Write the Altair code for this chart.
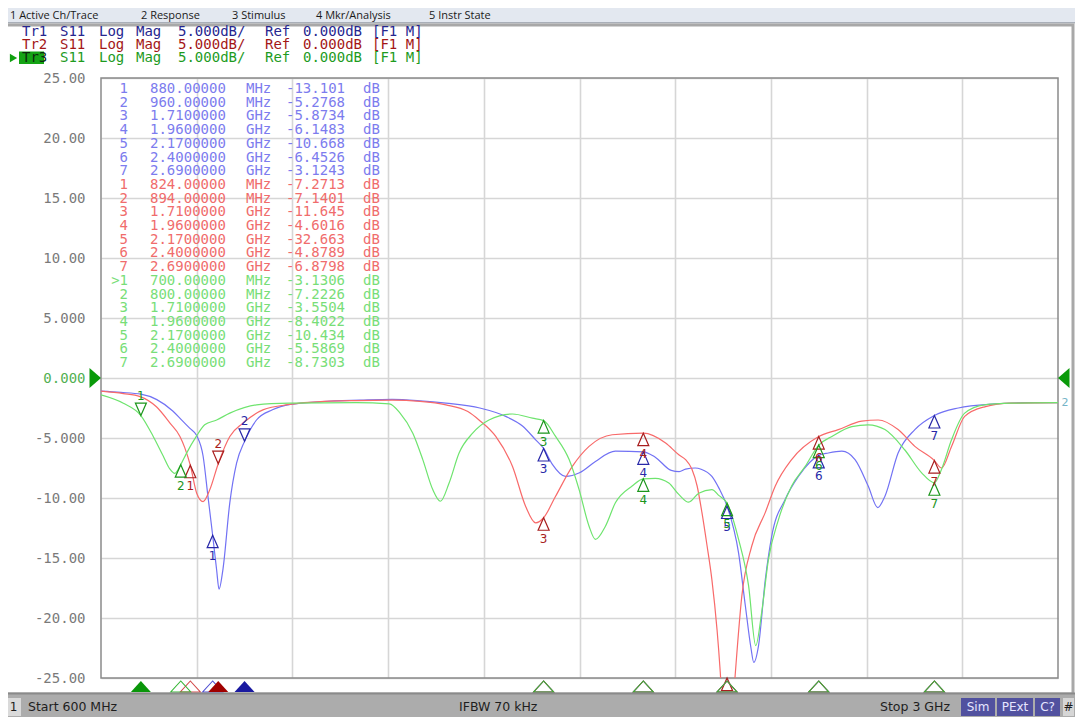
import altair as alt
import pandas as pd

# ---------------- data ----------------
tr1_freq = [600, 650, 700, 740, 780, 805, 823, 840, 856, 868,
            880, 890, 896, 906, 923, 940, 960, 990, 1030, 1075,
            1155, 1250, 1330, 1400, 1465, 1550, 1615, 1657, 1690, 1710,
            1732, 1765, 1800, 1840, 1890, 1960, 1990, 2030, 2050, 2066,
            2090, 2105, 2132, 2150, 2170, 2199, 2216, 2230, 2237, 2249,
            2266, 2282, 2316, 2349, 2400, 2424, 2458, 2491, 2524, 2548,
            2566, 2599, 2641, 2690, 2750, 2841, 2925, 3000]
tr1_db = [-1.1, -1.2, -1.35, -1.8, -2.75, -3.6, -4.2, -4.8, -6.5, -9.8,
          -13.1, -16.0, -17.6, -15.9, -10.4, -7.1, -5.28, -3.5, -2.65, -2.2,
          -1.97, -1.85, -1.78, -1.9, -2.1, -2.5, -3.2, -4.0, -5.15, -5.87,
          -7.2, -8.2, -7.9, -6.95, -6.1, -6.15, -6.6, -7.7, -7.8, -7.6,
          -7.5, -7.6, -8.2, -9.2, -10.67, -14.6, -19.0, -22.5, -23.7, -22.3,
          -16.8, -13.2, -10.1, -8.2, -6.45, -6.25, -6.1, -6.8, -9.0, -10.8,
          -9.85, -6.25, -4.3, -3.12, -2.5, -2.16, -2.05, -2.05]

tr2_freq = [600, 656, 698, 739, 773, 798, 810, 824, 840, 856,
            873, 894, 923, 956, 1006, 1073, 1160, 1240, 1330, 1400,
            1465, 1520, 1548, 1590, 1632, 1665, 1690, 1710, 1740, 1782,
            1824, 1882, 1960, 2016, 2049, 2066, 2082, 2095, 2107, 2120,
            2132, 2145, 2153, 2162, 2170, 2180, 2191, 2207, 2232, 2266,
            2291, 2332, 2400, 2449, 2508, 2549, 2599, 2641, 2690, 2708,
            2733, 2766, 2816, 2883, 3000]
tr2_db = [-1.1, -1.3, -1.55, -2.4, -3.76, -4.87, -5.8, -7.27, -9.6, -10.3,
          -9.3, -7.14, -4.87, -3.76, -2.66, -2.2, -1.95, -1.88, -1.85, -1.95,
          -2.24, -2.8, -3.5, -4.87, -7.37, -10.7, -12.07, -11.645, -9.86, -7.37,
          -5.7, -4.73, -4.60, -5.42, -6.4, -6.8, -7.6, -9.0, -11.2, -14.0,
          -16.8, -21.0, -24.5, -29.5, -32.663, -29.5, -24.5, -18.2, -14.0, -11.2,
          -9.0, -6.8, -4.88, -4.3, -3.6, -3.5, -4.3, -5.7, -6.88, -7.5,
          -5.7, -3.2, -2.4, -2.1, -2.05]

tr3_freq = [600, 656, 700, 731, 756, 773, 785, 800, 814, 839,
            860, 890, 923, 990, 1073, 1240, 1323, 1350, 1382, 1407,
            1432, 1451, 1473, 1498, 1532, 1573, 1632, 1682, 1710, 1740,
            1774, 1799, 1824, 1840, 1865, 1890, 1932, 1960, 1990, 2024,
            2049, 2074, 2099, 2132, 2150, 2170, 2199, 2224, 2242, 2257,
            2274, 2299, 2332, 2366, 2400, 2433, 2483, 2524, 2566, 2616,
            2658, 2690, 2708, 2733, 2766, 2816, 2883, 3000]
tr3_db = [-1.4, -2.1, -3.13, -4.87, -6.5, -7.6, -7.95, -7.22, -6.3, -4.87,
          -3.9, -3.5, -2.93, -2.24, -2.1, -2.05, -2.16, -2.93, -4.6, -6.8,
          -9.3, -10.27, -8.75, -6.25, -4.6, -3.5, -3.0, -3.35, -3.55, -4.87,
          -6.8, -9.3, -12.35, -13.45, -12.35, -10.4, -9.0, -8.40, -8.36, -8.75,
          -9.7, -10.35, -9.6, -9.3, -9.8, -10.43, -13.45, -17.3, -22.3, -19.5,
          -15.1, -11.8, -9.0, -7.37, -5.59, -4.87, -4.05, -3.9, -4.3, -6.0,
          -7.9, -8.73, -7.6, -5.15, -2.93, -2.24, -2.1, -2.05]

mk1_freq = [880, 960, 1710, 1960, 2170, 2400, 2690]
mk1_db = [-13.101, -5.2768, -5.8734, -6.1483, -10.668, -6.4526, -3.1243]
mk1_dir = ["up", "down", "up", "up", "up", "up", "up"]
mk2_freq = [824, 894, 1710, 1960, 2170, 2400, 2690]
mk2_db = [-7.2713, -7.1401, -11.645, -4.6016, -32.663, -4.8789, -6.8798]
mk2_dir = ["up", "down", "up", "up", "up", "up", "up"]
mk3_freq = [700, 800, 1710, 1960, 2170, 2400, 2690]
mk3_db = [-3.1306, -7.2226, -3.5504, -8.4022, -10.434, -5.5869, -8.7303]
mk3_dir = ["down", "up", "up", "up", "up", "up", "up"]
active_marker = {"Tr1": 2, "Tr2": 2, "Tr3": 1}

start_mhz, stop_mhz = 600, 3000
ref_db = 0
y_ticks = [25, 20, 15, 10, 5, 0, -5, -10, -15, -20, -25]
x_divs = [840, 1080, 1320, 1560, 1800, 2040, 2280, 2520, 2760]

trace_names = ["Tr1", "Tr2", "Tr3"]
header_words = ["S11", "Log", "Mag", "5.000dB/", "Ref", "0.000dB", "[F1 M]"]
menu_items = ["1 Active Ch/Trace", "2 Response", "3 Stimulus", "4 Mkr/Analysis", "5 Instr State"]
status_texts = ["Start 600 MHz", "IFBW 70 kHz", "Stop 3 GHz"]
status_buttons = ["Sim", "PExt", "C?"]

# ---------------- styles / layout ----------------
W, H = 957, 600
OX, OY = 101, 78          # page position of plot origin
def vx(p): return p - OX
def vy(p): return p - OY

line_col = {"Tr1": "#7272f4", "Tr2": "#f86a6a", "Tr3": "#6ee46e"}
mark_col = {"Tr1": "#2828a8", "Tr2": "#a81e1e", "Tr3": "#1c961c"}
table_col = {"Tr1": "#7c7cee", "Tr2": "#f06c6c", "Tr3": "#78de78"}
head_col = {"Tr1": "#26268f", "Tr2": "#a31616", "Tr3": "#1e9b1e"}
ind_outline = {"Tr1": "#5050d2", "Tr2": "#d24a4a", "Tr3": "#36b636"}
ind_filled = {"Tr1": "#1a1aa0", "Tr2": "#a00000", "Tr3": "#0a960a"}
MONO = "DejaVu Sans Mono"

xs = alt.Scale(domain=[start_mhz, stop_mhz], nice=False, zero=False)
ys = alt.Scale(domain=[-25, 25], nice=False, zero=False)
label_expr = ("(datum.value < 0 ? '-' : '') + (abs(datum.value) >= 10 ? "
              "format(abs(datum.value), '.2f') : format(abs(datum.value), '.3f'))")
x_axis = alt.Axis(values=x_divs, labels=False, ticks=False, domain=False, title=None,
                  grid=True, gridColor="#d6d6d6", gridWidth=1.6)
y_axis = alt.Axis(values=y_ticks, ticks=False, domain=False, title=None, grid=True,
                  gridColor="#d6d6d6", gridWidth=1.6, labelExpr=label_expr,
                  labelFont=MONO, labelFontSize=14, labelPadding=16,
                  labelColor={"condition": {"test": "datum.value === 0", "value": "#52b052"},
                              "value": "#7a7a7a"})

def X(f): return alt.X(f, type="quantitative", scale=xs, axis=x_axis)
def Y(f): return alt.Y(f, type="quantitative", scale=ys, axis=y_axis)
def PX(f): return alt.X(f, type="quantitative", scale=None, axis=None)
def PY(f): return alt.Y(f, type="quantitative", scale=None, axis=None)
def C(f): return alt.Color(f, type="nominal", scale=None, legend=None)

def rects(rows):
    df = pd.DataFrame([{"x1": vx(a), "y1": vy(b), "x2": vx(c), "y2": vy(d), "c": col}
                       for a, b, c, d, col in rows])
    return alt.Chart(df).mark_rect().encode(x=PX("x1"), x2="x2:Q", y=PY("y1"), y2="y2:Q", color=C("c"))

def texts(rows, font, size, align="left", weight="normal"):
    df = pd.DataFrame([{"x": vx(a), "y": vy(b), "t": t, "c": col} for t, a, b, col in rows])
    return alt.Chart(df).mark_text(font=font, fontSize=size, align=align, baseline="middle",
                                   fontWeight=weight).encode(
        x=PX("x"), y=PY("y"), text="t:N", color=C("c"))

# ---------------- tables built from the arrays ----------------
curve_rows = []
for name, fr, db in [("Tr1", tr1_freq, tr1_db), ("Tr2", tr2_freq, tr2_db), ("Tr3", tr3_freq, tr3_db)]:
    for f, d in zip(fr, db):
        curve_rows.append({"trace": name, "freq": f, "db": d, "col": line_col[name]})
curve_df = pd.DataFrame(curve_rows)

mk_rows = []
for name, fr, db, dr in [("Tr1", mk1_freq, mk1_db, mk1_dir), ("Tr2", mk2_freq, mk2_db, mk2_dir),
                         ("Tr3", mk3_freq, mk3_db, mk3_dir)]:
    for i, (f, d, di) in enumerate(zip(fr, db, dr)):
        mk_rows.append({"trace": name, "num": str(i + 1), "freq": f, "db": d, "dir": di,
                        "mcol": mark_col[name], "active": (i + 1) == active_marker[name],
                        "icol": ind_filled[name] if (i + 1) == active_marker[name] else ind_outline[name]})
mk_df = pd.DataFrame(mk_rows)

def fmt_freq(f):
    return (f"{f:.5f}", "MHz") if f < 1000 else (f"{f / 1000:.7f}", "GHz")

table_rows = []
for r, m in enumerate(mk_rows):
    fs, unit = fmt_freq(m["freq"])
    idx = (">" if (m["trace"] == "Tr3" and m["num"] == "1") else "") + m["num"]
    table_rows.append({"row": r, "idx": idx, "fs": fs, "unit": unit,
                       "val": f"{m['db']:.5g}", "db": "dB", "c": table_col[m["trace"]]})
table_df = pd.DataFrame(table_rows)
table_df["y"] = vy(89) + table_df["row"] * 13.7

# ---------------- layers ----------------
layers = []

# window chrome (back)
layers.append(rects([
    (0, 0, 1083, 22, "#e3e8f0"),
    (0, 22, 1083, 23.5, "#a9afb8"),
    (19, 51.5, 44, 64, "#14a314"),
]))
layers.append(alt.Chart(pd.DataFrame({"a": [0]})).mark_rect(
    fillOpacity=0, stroke="#a8a8a8", strokeWidth=3).encode(
    x=alt.value(vx(3.5)), x2=alt.value(vx(1073)), y=alt.value(vy(25)), y2=alt.value(vy(694))))

menu_x = [10, 141, 232, 316, 429]
layers.append(texts([(t, x, 16, "#1a1a1a") for t, x in zip(menu_items, menu_x)], "Open Sans", 11))

# header lines
head_x = [60, 99, 136, 178, 265, 303, 372]
head_y = [31.5, 44.5, 58]
hrows = []
for name, yy in zip(trace_names, head_y):
    hrows.append((name, 22, yy, "#0c2a0c" if name == "Tr3" else head_col[name]))
    for w, xx in zip(header_words, head_x):
        hrows.append((w, xx, yy, head_col[name]))
layers.append(texts(hrows, MONO, 14))
layers.append(alt.Chart(pd.DataFrame({"a": [0]})).mark_point(
    shape="triangle-right", size=70, filled=True, color="#10a010", opacity=1).encode(
    x=alt.value(vx(13.5)), y=alt.value(vy(58))))

# marker table
for field, xpos, align in [("idx", 128, "right"), ("fs", 150, "left"), ("unit", 246, "left"),
                           ("val", 286, "left"), ("db", 363, "left")]:
    layers.append(alt.Chart(table_df).mark_text(font=MONO, fontSize=14, align=align, baseline="middle").encode(
        x=alt.value(vx(xpos)), y=PY("y"), text=f"{field}:N", color=C("c")))

# plot frame
layers.append(alt.Chart(pd.DataFrame({"a": [0]})).mark_rect(
    fillOpacity=0, stroke="#8a8a8a", strokeWidth=1.5).encode(
    x=alt.value(0), x2=alt.value(W), y=alt.value(0), y2=alt.value(H)))

# traces
layers.append(alt.Chart(curve_df).mark_line(clip=True, strokeWidth=1.2, interpolate="monotone").encode(
    x=X("freq"), y=Y("db"), color=C("col"), detail="trace:N"))

# markers on traces
tri_up = "M0,0L-0.55,1.25L0.55,1.25Z"
tri_dn = "M0,0L-0.55,-1.25L0.55,-1.25Z"
mk_base = alt.Chart(mk_df).transform_calculate(ydisp="max(datum.db, -25)").encode(
    x=X("freq"), y=Y("ydisp"), color=C("mcol"))
layers.append(mk_base.transform_filter("datum.dir == 'up'").mark_point(
    shape=tri_up, size=400, filled=False, strokeWidth=1.2, opacity=1))
layers.append(mk_base.transform_filter("datum.dir == 'down'").mark_point(
    shape=tri_dn, size=400, filled=False, strokeWidth=1.2, opacity=1))
layers.append(mk_base.transform_filter("datum.dir == 'up'").mark_text(
    dy=21, font="DejaVu Sans", fontSize=12, baseline="middle").encode(text="num:N"))
layers.append(mk_base.transform_filter("datum.dir == 'down'").mark_text(
    dy=-20, font="DejaVu Sans", fontSize=12, baseline="middle").encode(text="num:N"))

# reference level triangles
ref_df = pd.DataFrame({"freq": [start_mhz, stop_mhz], "db": [ref_db, ref_db], "side": ["L", "R"]})
layers.append(alt.Chart(ref_df).transform_filter("datum.side == 'L'").mark_point(
    shape="M0,0L-1.15,-1L-1.15,1Z", size=400, filled=True, color="#0a9a0a", opacity=1).encode(
    x=X("freq"), y=Y("db")))
layers.append(alt.Chart(ref_df).transform_filter("datum.side == 'R'").mark_point(
    shape="M0,0L1.15,-1L1.15,1Z", size=400, filled=True, color="#0a9a0a", opacity=1).encode(
    x=X("freq"), y=Y("db")))

# trace end label
end_df = pd.DataFrame({"freq": [tr3_freq[-1]], "db": [tr3_db[-1]], "t": ["2"]})
layers.append(alt.Chart(end_df).mark_text(dx=7, align="center", baseline="middle",
                                          font="DejaVu Sans", fontSize=11, color="#74b4c8").encode(
    x=X("freq"), y=Y("db"), text="t:N"))

# marker indicators below the grid
ind = "M0,0L-1,1.1L1,1.1Z"
layers.append(alt.Chart(mk_df).transform_filter("!datum.active").mark_point(
    shape=ind, size=400, filled=False, strokeWidth=1.1, opacity=1).encode(
    x=X("freq"), y=alt.value(vy(681)), color=C("icol")))
layers.append(alt.Chart(mk_df).transform_filter("datum.active").mark_point(
    shape=ind, size=400, filled=True, opacity=1).encode(
    x=X("freq"), y=alt.value(vy(681)), color=C("icol")))

# status bar
layers.append(rects([
    (0, 694, 1083, 717, "#acacac"),
    (0, 692.5, 1083, 694.5, "#8a8a8a"),
    (6, 698, 21, 716, "#dadada"),
    (961, 698, 995, 716, "#51519f"),
    (997, 698, 1033, 716, "#51519f"),
    (1035, 698, 1060, 716, "#51519f"),
    (1063, 698, 1074, 716, "#d6d6d6"),
]))
layers.append(texts([(t, x, 707, "#1e1e1e") for t, x in zip(status_texts, [28, 459, 880])],
                    "DejaVu Sans", 12.5))
layers.append(texts([("1", 13.5, 707, "#1e1e1e"), ("#", 1068.5, 707, "#1e1e1e")] +
                    [(t, x, 707, "#e6e6ff") for t, x in zip(status_buttons, [978, 1015, 1047.5])],
                    "DejaVu Sans", 12, align="center"))

chart = alt.layer(*layers).properties(
    width=W, height=H,
    padding={"left": 93, "top": 70, "right": 17, "bottom": 39},
    autosize=alt.AutoSizeParams(type="none"),
    background="white",
).configure_view(stroke=None)

chart.save("out.html", embed_options={"renderer": "svg", "actions": False})
